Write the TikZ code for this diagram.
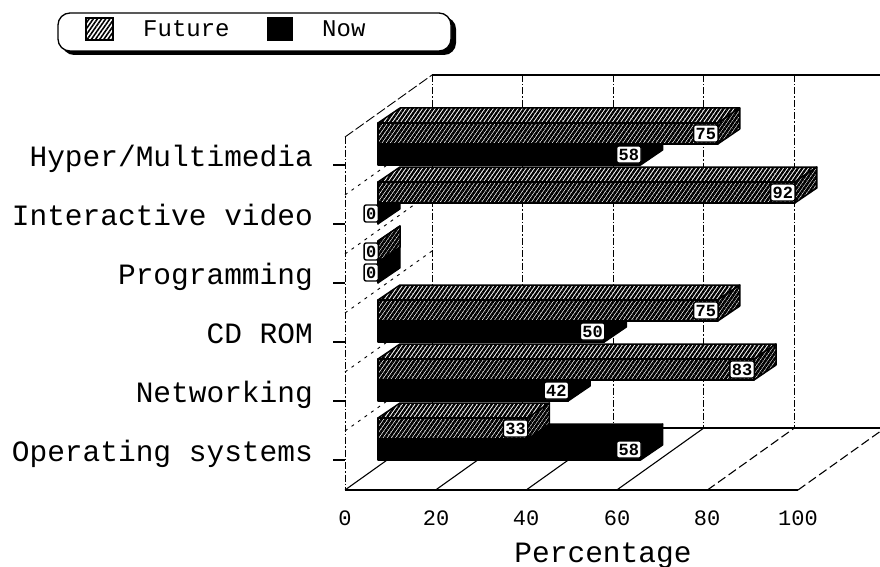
\documentclass[tikz,border=0pt]{standalone}
\usepackage{fontspec}
\newfontfamily\chartfont{Liberation Mono}
\usetikzlibrary{patterns.meta}

% bar geometry: origin of the value axis, pixels per percent, extrusion
\newcommand\barx{378}
\newcommand\barscale{4.53}

\tikzset{
  wallgrid/.style={line width=0.7pt, dash pattern=on 7pt off 2pt on 1.5pt off 2pt},
  walledge/.style={line width=0.9pt, dash pattern=on 10pt off 3pt},
  rowgrid/.style={line width=0.9pt, dash pattern=on 3pt off 5pt},
  floorline/.style={line width=1.4pt},
  floordiag/.style={line width=1.1pt},
  catlabel/.style={font=\chartfont\fontsize{29.5}{31}\selectfont, anchor=base east, inner sep=0pt},
  ticklabel/.style={font=\chartfont\fontsize{22}{24}\selectfont, anchor=base, inner sep=0pt},
  axistitle/.style={font=\chartfont\fontsize{29.5}{31}\selectfont, anchor=base, inner sep=0pt},
  legendtext/.style={font=\chartfont\fontsize{24}{26}\selectfont, anchor=base west, inner sep=0pt},
  vallabel/.style={draw, line width=1.4pt, fill=white, rounded corners=2pt,
    font=\chartfont\bfseries\fontsize{17}{18}\selectfont,
    inner xsep=2pt, inner ysep=0pt, minimum height=17pt, anchor=east},
  nowtop/.style={fill=black, draw=black, line width=1.2pt, line join=round},
  nowfront/.style={fill=black, draw=black, line width=1.2pt, line join=round},
  nowend/.style={fill=black, draw=black, line width=1.2pt, line join=round},
  futtop/.style={fill=white, postaction={pattern={Lines[angle=55,distance=3.4pt,line width=2.3pt]}},
    draw=black, line width=1.5pt, line join=round},
  futfront/.style={fill=white, postaction={pattern={Lines[angle=55,distance=3.4pt,line width=2.6pt]}},
    draw=black, line width=1.5pt, line join=round},
  futend/.style={fill=white, postaction={pattern={Lines[angle=55,distance=3.2pt,line width=2.6pt]}},
    draw=black, line width=1.5pt, line join=round},
  swatchfut/.style={fill=white, postaction={pattern={Lines[angle=55,distance=3.4pt,line width=1.6pt]}},
    draw=black, line width=1.2pt},
  swatchnow/.style={fill=black, draw=black, line width=1.2pt},
}

% #1 face style prefix, #2 value in percent, #3 bottom of the front face
\newcommand\drawbar[3]{%
  \pgfmathsetmacro\xe{\barx+\barscale*#2}%
  \pgfmathsetmacro\ytop{#3-21}%
  \path[#1top] (\barx,\ytop) -- (\xe,\ytop) -- ++(22,-15) -- (\barx+22,\ytop-15) -- cycle;
  \path[#1front] (\barx,\ytop) rectangle (\xe,#3);
  \path[#1end] (\xe,\ytop) -- ++(22,-15) -- ++(0,21) -- (\xe,#3) -- cycle;
}

\begin{document}
\begin{tikzpicture}[x=1pt,y=-1pt]
\useasboundingbox (0,0) rectangle (880,567);
\fill[white] (0,0) rectangle (880,567);

% ---- legend ----
\fill[black, rounded corners=12pt] (62,17) rectangle (456,55);
\draw[fill=white, line width=1.3pt, rounded corners=12pt] (58,13) rectangle (451,51);
\path[swatchfut] (86,18) rectangle (113,40);
\node[legendtext] (legfut) at (143,37) {Future};
\path[swatchnow] (268,18) rectangle (292,40);
\node[legendtext] (legnow) at (322,37) {Now};

% ---- back wall ----
\draw[line width=1.2pt] (432,75) -- (880,75);
\foreach \k in {0,...,4}
  \draw[wallgrid] (432+90.6*\k,75) -- (432+90.6*\k,428);

% ---- left wall ----
\draw[walledge] (345,137) -- (432,75);
\draw[wallgrid] (345,137) -- (345,490);
\foreach \k in {1,...,5}
  \draw[rowgrid] (345,136+59*\k) -- (432,74+59*\k);

% ---- floor ----
\draw[floorline] (345,490) -- (798,490);
\draw[floorline] (432,428) -- (880,428);
\foreach \k in {0,...,3}
  \draw[floordiag] (345+90.6*\k,490) -- (432+90.6*\k,428);
\foreach \k in {4,5}
  \draw[floordiag, dash pattern=on 9pt off 4pt] (345+90.6*\k,490) -- (432+90.6*\k,428);

% ---- category axis ----
\foreach \t/\lab/\nm in {165/Hyper\slash Multimedia/cA, 224/Interactive video/cB,
    283/Programming/cC, 342/CD ROM/cD, 401/Networking/cE, 460/Operating systems/cF} {
  \draw[line width=1.3pt] (333,\t) -- (345,\t);
  \node[catlabel] (\nm) at (313,\t+1) {\lab};
}

% ---- bars: Now in front, Future stacked on top ----
\foreach \t/\fut/\now in {165/75/58, 224/92/0, 283/0/0, 342/75/50, 401/83/42, 460/33/58} {
  \drawbar{now}{\now}{\t}
  \drawbar{fut}{\fut}{\t-21}
}

% ---- value labels ----
\foreach \t/\fut/\now/\nm in {165/75/58/vA, 224/92/0/vB, 283/0/0/vC,
    342/75/50/vD, 401/83/42/vE, 460/33/58/vF} {
  \node[vallabel] (\nm now) at (\barx+\barscale*\now+1,\t-10.5) {\now};
  \node[vallabel] (\nm fut) at (\barx+\barscale*\fut+1,\t-31.5) {\fut};
}

% ---- value axis ----
\foreach \v/\x in {0/345, 20/436, 40/526, 60/617, 80/707, 100/798}
  \node[ticklabel] (t\v) at (\x,525) {\v};
\node[axistitle] (xtitle) at (603,562) {Percentage};
\end{tikzpicture}
\end{document}
